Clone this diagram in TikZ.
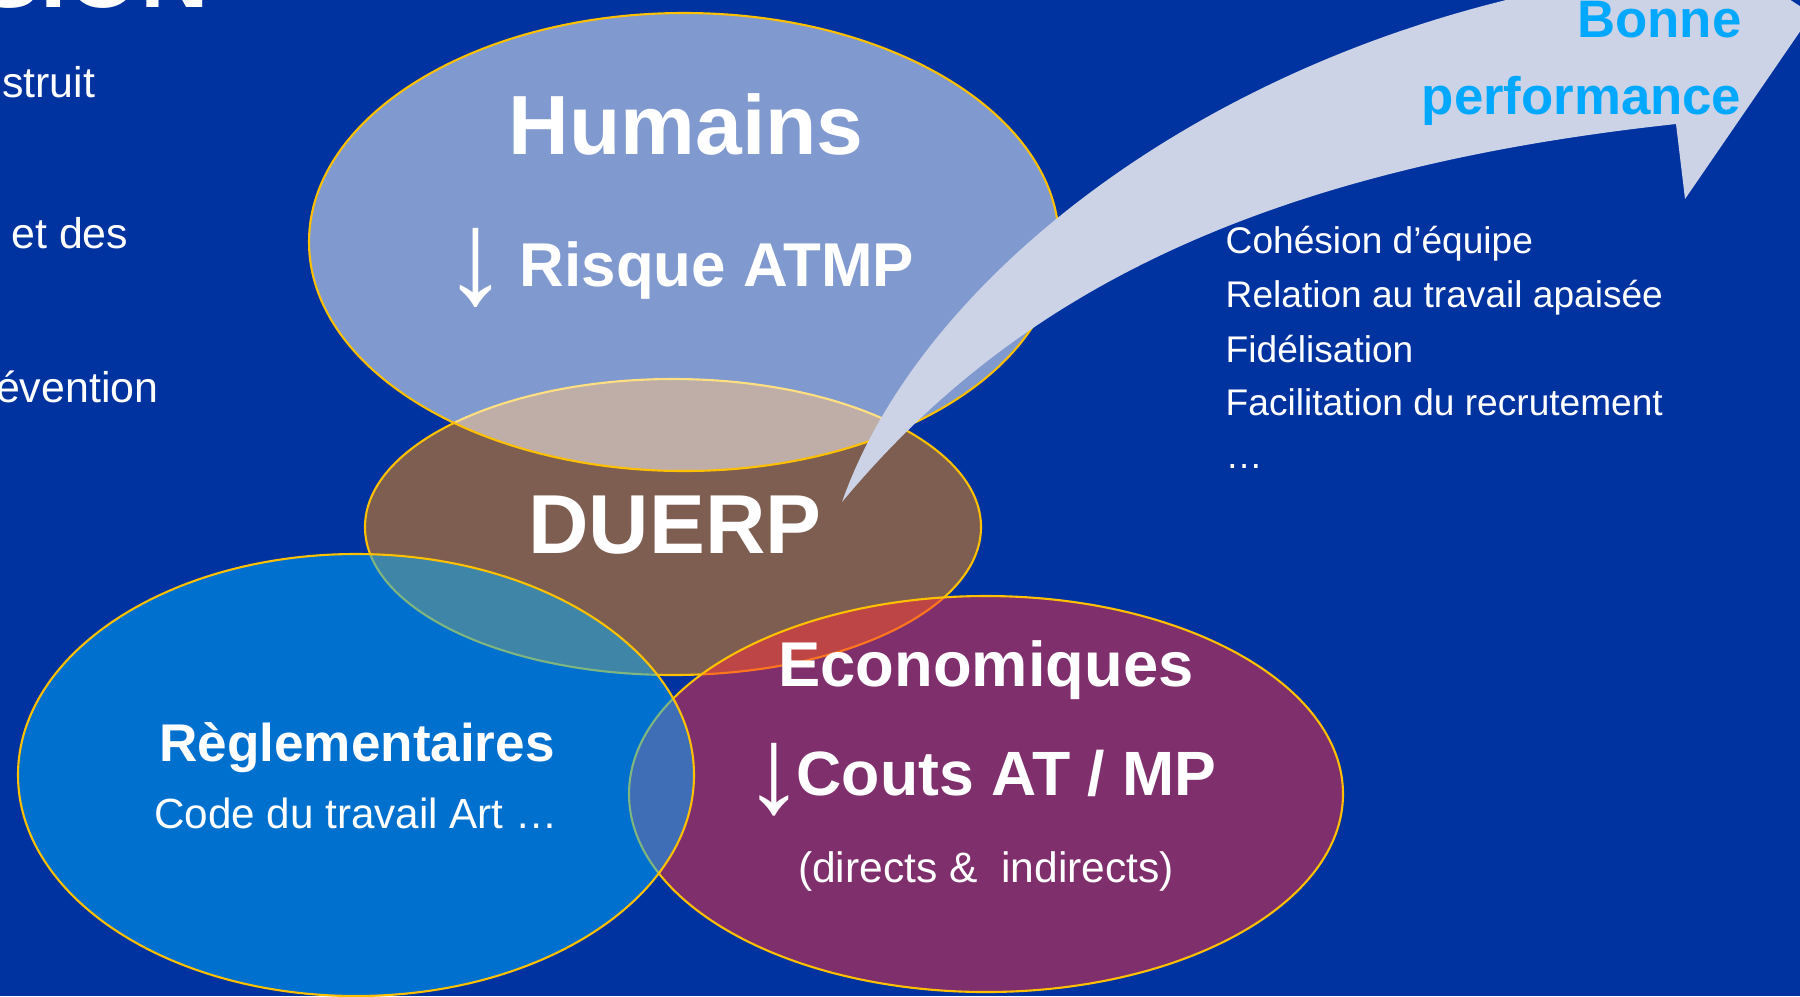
\documentclass[tikz,border=0pt]{standalone}
\usepackage{fontspec}
\setmainfont{Liberation Sans}
\usepackage{xcolor}
\usepackage{tikz}
\usetikzlibrary{calc}
\definecolor{bg}{HTML}{0033A0}
\definecolor{rim}{HTML}{FFC000}
\definecolor{brown}{HTML}{7D5E50}
\definecolor{ecored}{HTML}{FF2D3C}
\definecolor{reglblue}{HTML}{00ADFF}
\definecolor{arrowgrey}{HTML}{CDD3E6}
\definecolor{perf}{HTML}{00A8FF}
\newcommand{\fsz}[1]{\fontsize{#1}{#1}\selectfont}
\tikzset{
  rimline/.style={draw=rim, line width=0.6pt},
  lbl/.style={text=white, inner sep=0pt, anchor=base},
  bold/.style={lbl, font=\bfseries\fsz{#1}},
  plain/.style={lbl, font=\fsz{#1}},
  item/.style={plain=10.55, anchor=base west}
}

\begin{document}
\begin{tikzpicture}[x=0.01cm, y=-0.01cm]
  \fill[bg] (0,0) rectangle (1800,996);
  \useasboundingbox (0,0) rectangle (1800,996);
  \clip (0,0) rectangle (1800,996);

  \coordinate (H) at (684,242);
  \coordinate (D) at (673,527);
  \coordinate (R) at (356,775);
  \coordinate (E) at (986,794);

  \draw[rimline, fill=brown] (D) ellipse [x radius=308, y radius=148];
  \draw[rimline, fill=white, fill opacity=0.5] (H) ellipse [x radius=375, y radius=229];
  \draw[rimline, fill=ecored, fill opacity=0.5] (E) ellipse [x radius=357, y radius=198];
  \draw[rimline, fill=reglblue, fill opacity=0.5] (R) ellipse [x radius=338, y radius=221];

  % curved arrow
  \coordinate (tail) at (842,502);
  \coordinate (tip) at (1812,14);
  \fill[arrowgrey] (tail) .. controls (920,280) and (1200,60) .. (1560,-12)
    -- (1652,-90) -- (tip) -- (1685,199) -- (1676,124)
    .. controls (1250,170) and (1010,300) .. (tail);

  % left edge of the slide
  \node[bold=27, anchor=base east] (title) at (210,7) {SION};
  \node[plain=12.2, anchor=base east] (left1) at (96,97) {struit};
  \node[plain=12.2, anchor=base east] (left2) at (129,248) {et des};
  \node[plain=12.2, anchor=base east] (left3) at (159,402) {évention};

  \node[bold=23.9] (hum) at (686,154) {Humains};
  \node[plain=38] (harrow) at (476,303) {↓};
  \node[bold=17.6, anchor=base west] (risk) at (519,286) {Risque ATMP};

  \node[bold=23.8] (duerp) at (675,553) {DUERP};

  \node[bold=18] (eco) at (986,686) {Economiques};
  \node[plain=35] (carrow) at (774,812) {↓};
  \node[bold=17.8, anchor=base west] (couts) at (796,795) {Couts AT / MP};
  \node[plain=12.1] (direct) at (986,882) {(directs \&\ \ indirects)};

  \node[bold=15.1] (regl) at (357,761) {Règlementaires};
  \node[plain=12] (code) at (356,828) {Code du travail Art …};

  \node[bold=15, text=perf, anchor=base east] (bonne) at (1742,37) {Bonne};
  \node[bold=15, text=perf, anchor=base east] (perf) at (1742,114) {performance};

  \node[item] (coh) at (1225,253) {Cohésion d’équipe};
  \node[item] (rel) at (1225,307) {Relation au travail apaisée};
  \node[item] (fid) at (1225,362) {Fidélisation};
  \node[item] (fac) at (1225,415) {Facilitation du recrutement};
  \node[item] (etc) at (1225,468) {…};
\end{tikzpicture}
\end{document}
